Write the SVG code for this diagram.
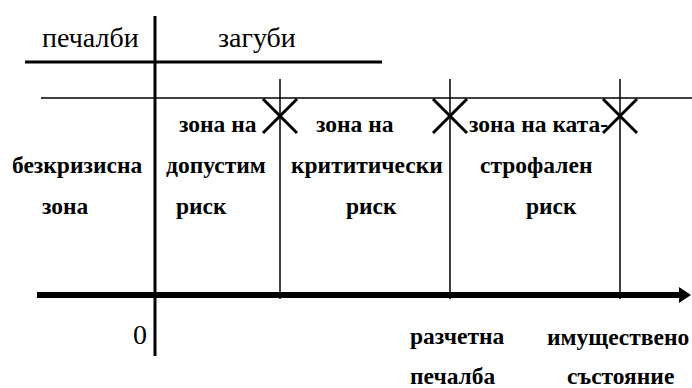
<svg xmlns="http://www.w3.org/2000/svg" width="692" height="388" viewBox="0 0 692 388">
<style>
.reg{font-family:'Liberation Serif','Times New Roman',serif;font-size:28px;fill:#000}
.b{font-family:'Liberation Serif','Times New Roman',serif;font-size:23.5px;font-weight:bold;fill:#000}
.thin{stroke:#000;stroke-width:1.5;fill:none}
.thick{stroke:#000;stroke-width:3;fill:none}
.x{stroke:#000;stroke-width:3;fill:none}
</style>
<rect width="692" height="388" fill="#fff"/>
<g id="connectors">
<line class="thick" x1="155" y1="16" x2="155" y2="356"/>
<line class="thick" x1="25" y1="62" x2="382" y2="62"/>
<line class="thin" x1="41" y1="98" x2="692" y2="98"/>
<line class="thin" x1="280" y1="79" x2="280" y2="299"/>
<line class="thin" x1="450" y1="79" x2="450" y2="299"/>
<line class="thin" x1="620" y1="79" x2="620" y2="299"/>
<line stroke="#000" stroke-width="6" x1="37" y1="295" x2="680" y2="295"/>
<polygon points="679,287 691,295 679,303" fill="#000"/>
</g>
<g id="cross1"><path class="x" d="M263,99 L297,133 M297,99 L263,133"/></g>
<g id="cross2"><path class="x" d="M433,99 L467,133 M467,99 L433,133"/></g>
<g id="cross3"><path class="x" d="M603,99 L637,133 M637,99 L603,133"/></g>
<g id="header">
<text class="reg" x="42" y="47">печалби</text>
<text class="reg" x="218" y="47">загуби</text>
</g>
<g id="zone0">
<text class="b" x="12" y="173">безкризисна</text>
<text class="b" x="42" y="214">зона</text>
</g>
<g id="zone1">
<text class="b" x="179" y="132">зона на</text>
<text class="b" x="166" y="173">допустим</text>
<text class="b" x="176" y="214">риск</text>
</g>
<g id="zone2">
<text class="b" x="316" y="132">зона на</text>
<text class="b" x="291" y="173">крититически</text>
<text class="b" x="346" y="214">риск</text>
</g>
<g id="zone3">
<text class="b" x="469" y="132">зона на ката-</text>
<text class="b" x="480" y="173">строфален</text>
<text class="b" x="526" y="214">риск</text>
</g>
<g id="axis-labels">
<text class="reg" x="133" y="344">0</text>
<text class="b" x="410" y="344">разчетна</text>
<text class="b" x="410" y="384">печалба</text>
<text class="b" x="547" y="345">имуществено</text>
<text class="b" x="567" y="384">състояние</text>
</g>
</svg>
